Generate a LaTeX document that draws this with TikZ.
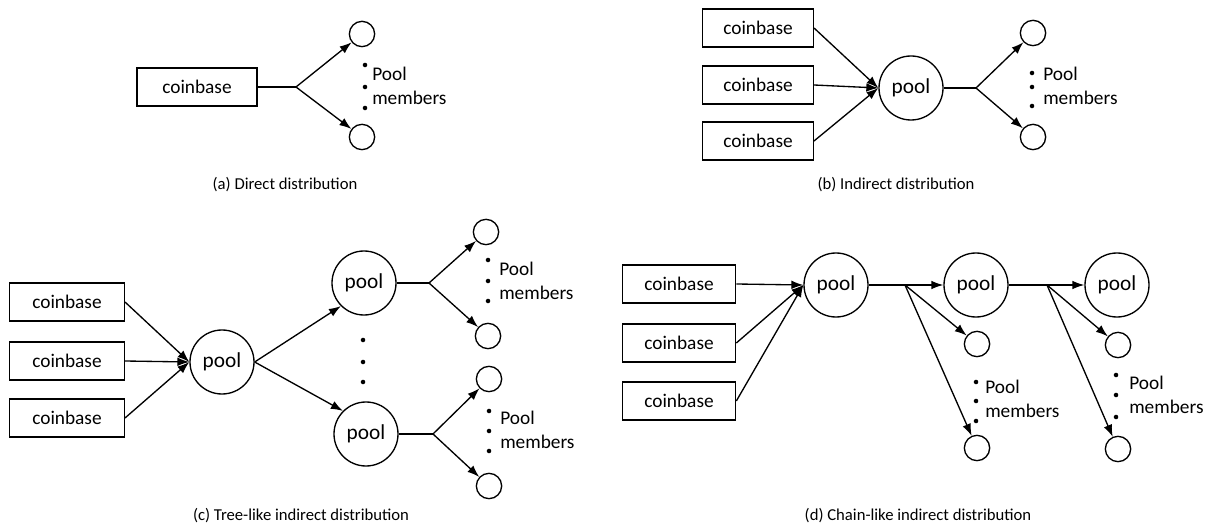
\documentclass[tikz,border=0pt]{standalone}
\usepackage{fontspec}
\setmainfont{Carlito}
\usetikzlibrary{arrows.meta}
\begin{document}
\begin{tikzpicture}[x=0.75pt,y=-0.75pt,
  box/.style={draw, line width=1pt, minimum width=85pt, minimum height=28.5pt, inner sep=0pt, font=\fontsize{14.5}{16}\selectfont},
  pool/.style={draw, circle, line width=1pt, minimum size=48pt, inner sep=0pt, font=\fontsize{16}{18}\selectfont},
  member/.style={draw, circle, line width=1pt, minimum size=19pt, inner sep=0pt},
  dot/.style={fill, circle, minimum size=3.4pt, inner sep=0pt},
  lbl/.style={align=left, anchor=west, inner sep=0pt, font=\fontsize{14.5}{17.5}\selectfont},
  captext/.style={inner sep=0pt, font=\fontsize{12.5}{14}\selectfont},
  conn/.style={line width=1pt},
  arr/.style={conn, -{Latex[length=9pt,width=6.5pt]}}
]
\useasboundingbox (0,0) rectangle (1206,523);

% ---------- (a) ----------
\node[box, minimum width=90pt] (a-cb) at (197,87) {coinbase};
\coordinate (a-br) at (296,87);
\node[member] (a-m1) at (362,34) {};
\node[member] (a-m2) at (362,137) {};
\node[dot] (a-d1) at (365,65) {};
\node[dot] (a-d2) at (365,87) {};
\node[dot] (a-d3) at (365,108) {};
\node[lbl] (a-lbl) at (372,86) {Pool\\members};
\draw[conn] (a-cb.east) -- (a-br);
\draw[arr] (a-br) -- (a-m1);
\draw[arr] (a-br) -- (a-m2);
\node[captext] (a-cap) at (285,185) {(a) Direct distribution};

% ---------- (b) ----------
\node[box, minimum width=83pt] (b-cb1) at (758,28) {coinbase};
\node[box, minimum width=83pt] (b-cb2) at (758,85) {coinbase};
\node[box, minimum width=83pt] (b-cb3) at (758,141) {coinbase};
\node[pool] (b-pool) at (911,88) {pool};
\coordinate (b-br) at (976,88);
\node[member] (b-m1) at (1033,33) {};
\node[member] (b-m2) at (1033,137) {};
\node[dot] (b-d1) at (1032,73) {};
\node[dot] (b-d2) at (1032,87) {};
\node[dot] (b-d3) at (1032,106) {};
\node[lbl] (b-lbl) at (1043,86) {Pool\\members};
\draw[arr] (b-cb1.east) -- (b-pool.west);
\draw[arr] (b-cb2.east) -- (b-pool.west);
\draw[arr] (b-cb3.east) -- (b-pool.west);
\draw[conn] (b-pool.east) -- (b-br);
\draw[arr] (b-br) -- (b-m1);
\draw[arr] (b-br) -- (b-m2);
\node[captext] (b-cap) at (896,185) {(b) Indirect distribution};

% ---------- (c) ----------
\node[box, minimum width=86pt] (c-cb1) at (67,302) {coinbase};
\node[box, minimum width=86pt] (c-cb2) at (67,361) {coinbase};
\node[box, minimum width=86pt] (c-cb3) at (67,418) {coinbase};
\node[pool] (c-pool) at (222,362) {pool};
\node[pool] (c-pu) at (364,283) {pool};
\node[pool] (c-pl) at (366,434) {pool};
\node[dot] (c-v1) at (363,340) {};
\node[dot] (c-v2) at (363,362) {};
\node[dot] (c-v3) at (363,382) {};
\draw[arr] (c-cb1.east) -- (c-pool.west);
\draw[arr] (c-cb2.east) -- (c-pool.west);
\draw[arr] (c-cb3.east) -- (c-pool.west);
\draw[arr] (c-pool.east) -- (c-pu.south west);
\draw[arr] (c-pool.east) -- (c-pl.north west);
% upper pool members
\coordinate (c-bru) at (429,283);
\node[member] (c-mu1) at (486,232) {};
\node[member] (c-mu2) at (488,336) {};
\node[dot] (c-du1) at (488,260) {};
\node[dot] (c-du2) at (488,281) {};
\node[dot] (c-du3) at (488,301) {};
\node[lbl] (c-lblu) at (499,281) {Pool\\members};
\draw[conn] (c-pu.east) -- (c-bru);
\draw[arr] (c-bru) -- (c-mu1);
\draw[arr] (c-bru) -- (c-mu2);
% lower pool members
\coordinate (c-brl) at (433,434);
\node[member] (c-ml1) at (489,379) {};
\node[member] (c-ml2) at (489,486) {};
\node[dot] (c-dl1) at (489,411) {};
\node[dot] (c-dl2) at (489,431) {};
\node[dot] (c-dl3) at (489,451) {};
\node[lbl] (c-lbll) at (500,430) {Pool\\members};
\draw[conn] (c-pl.east) -- (c-brl);
\draw[arr] (c-brl) -- (c-ml1);
\draw[arr] (c-brl) -- (c-ml2);
\node[captext] (c-cap) at (301,516) {(c) Tree-like indirect distribution};

% ---------- (d) ----------
\node[box, minimum width=85pt] (d-cb1) at (679,284) {coinbase};
\node[box, minimum width=85pt] (d-cb2) at (679,343) {coinbase};
\node[box, minimum width=85pt] (d-cb3) at (679,401) {coinbase};
\node[pool] (d-p1) at (836,285) {pool};
\node[pool] (d-p2) at (976,285) {pool};
\node[pool] (d-p3) at (1117,285) {pool};
\draw[arr] (d-cb1.east) -- (d-p1.west);
\draw[arr] (d-cb2.east) -- (d-p1.west);
\draw[arr] (d-cb3.east) -- (d-p1.west);
\draw[arr] (d-p1.east) -- (d-p2.west);
\draw[arr] (d-p2.east) -- (d-p3.west);
% members after pool 1
\coordinate (d-br1) at (905,285);
\node[member] (d-m11) at (977,344) {};
\node[member] (d-m12) at (977,448) {};
\node[dot] (d-d11) at (976,382) {};
\node[dot] (d-d12) at (976,401) {};
\node[dot] (d-d13) at (976,421) {};
\node[lbl] (d-lbl1) at (985,399) {Pool\\members};
\draw[arr] (d-br1) -- (d-m11);
\draw[arr] (d-br1) -- (d-m12);
% members after pool 2
\coordinate (d-br2) at (1047,285);
\node[member] (d-m21) at (1118,345) {};
\node[member] (d-m22) at (1118,449) {};
\node[dot] (d-d21) at (1116,375) {};
\node[dot] (d-d22) at (1116,395) {};
\node[dot] (d-d23) at (1116,417) {};
\node[lbl] (d-lbl2) at (1129,395) {Pool\\members};
\draw[arr] (d-br2) -- (d-m21);
\draw[arr] (d-br2) -- (d-m22);
\node[captext] (d-cap) at (918,516) {(d) Chain-like indirect distribution};
\end{tikzpicture}
\end{document}
